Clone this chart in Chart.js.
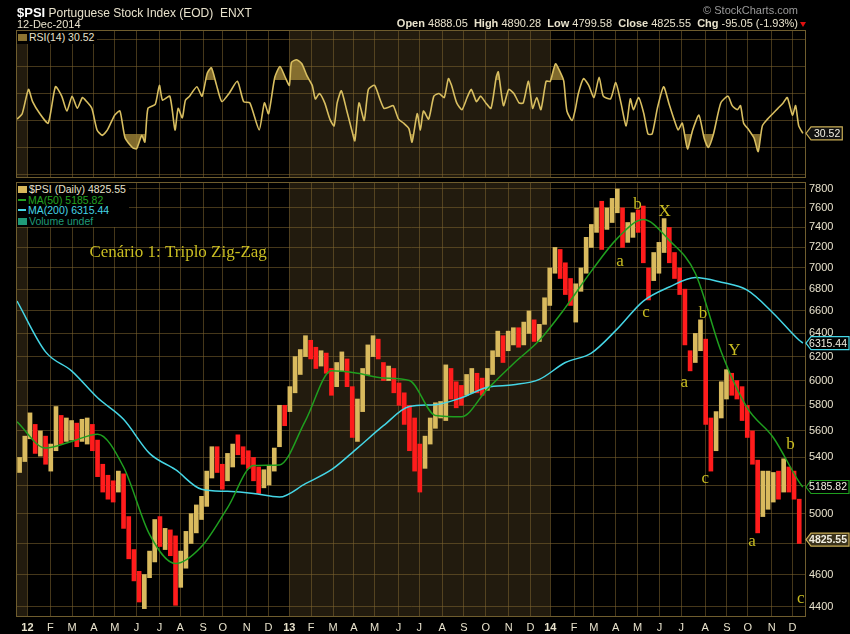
<!DOCTYPE html>
<html>
<head>
<meta charset="utf-8">
<script src="https://cdn.jsdelivr.net/npm/chart.js@4.4.1/dist/chart.umd.min.js"></script>
<style>
  body { margin: 0; background: #000; width: 850px; height: 634px; overflow: hidden; position: relative;
         font-family: "Liberation Sans", Arial, sans-serif; }
  canvas { position: absolute; left: 0; }
  #rsi { top: 0; }
  #price { top: 180px; }
  .t { position: absolute; white-space: nowrap; color: #e8e2cc; }
  .leg { position: absolute; background: #000; font-size: 10.5px; line-height: 10.5px; padding: 1px 3px 1px 1px; }
  .ico { display: inline-block; width: 9px; height: 7px; margin-right: 2px; vertical-align: 0; }
  .dash { display: inline-block; width: 8px; height: 2px; margin-right: 2px; vertical-align: 3px; }
</style>
</head>
<body>
<canvas id="rsi" width="850" height="180"></canvas>
<canvas id="price" width="850" height="454"></canvas>

<div class="t" style="left:17px;top:5px;font-size:12px"><b style="font-size:13px;color:#fff">$PSI</b> Portuguese Stock Index (EOD)&nbsp; ENXT</div>
<div class="t" style="left:17px;top:18px;font-size:11px">12-Dec-2014</div>
<div class="t" style="right:52px;top:4px;font-size:11px;color:#9a9a9a">© StockCharts.com</div>
<div class="t" style="right:52px;top:17px;font-size:11px"><b>Open</b> 4888.05&nbsp; <b>High</b> 4890.28&nbsp; <b>Low</b> 4799.58&nbsp; <b>Close</b> 4825.55&nbsp; <b>Chg</b> -95.05 (-1.93%)</div>
<div style="position:absolute;left:800px;top:22px;width:0;height:0;border-left:3px solid transparent;border-right:3px solid transparent;border-top:5px solid #e01010"></div>

<div class="leg" style="left:17px;top:31px;color:#e8e2cc"><span class="ico" style="background:#8c7432"></span>RSI(14) 30.52</div>
<div class="leg" style="left:17px;top:183px">
  <div style="color:#e8e2cc"><span class="ico" style="background:#d8b85c"></span>$PSI (Daily) 4825.55</div>
  <div style="color:#22a322"><span class="dash" style="background:#22a322"></span>MA(50) 5185.82</div>
  <div style="color:#45d6e6"><span class="dash" style="background:#45d6e6"></span>MA(200) 6315.44</div>
  <div style="color:#1f9a78"><span class="ico" style="background:#1f9a78"></span>Volume undef</div>
</div>

<script>
// ---- eixo temporal: dias de negociação desde meados de Dez-2011 ----
const monthDays   = [10,32,53,74,94,115,137,157,179,198,221,242,262,283,304,324,344,367,387,409,430,451,473,494,513,536,555,576,597,618,639,662,683,703,726,746];
const monthLabels = ['12','F','M','A','M','J','J','A','S','O','N','D','13','F','M','A','M','J','J','A','S','O','N','D','14','F','M','A','M','J','J','A','S','O','N','D'];
const shadeSpans  = [[0, 10], [262, 513]];

// ---- barras semanais (mínimo / máximo / subida=1) ----
const weekLow  = [5290,5370,5540,5430,5410,5350,5300,5450,5500,5520,5530,5480,5520,5500,5450,5260,5150,5100,5080,5150,
                  4900,4700,4560,4430,4390,4580,4680,4780,4760,4720,4410,4520,4640,4800,4870,4960,5050,5250,5290,5170,
                  5230,5330,5420,5350,5320,5230,5140,5180,5200,5300,5480,5640,5750,5900,6050,6200,6180,6100,6120,6060,
                  5880,5950,6080,5950,5550,5520,5750,6050,6200,6180,6000,6000,5900,5800,5650,5450,5300,5150,5320,5500,
                  5620,5700,5680,5850,5780,5800,5880,5900,5900,5880,5920,6050,6200,6150,6250,6300,6280,6300,6400,6330,
                  6330,6480,6650,6950,6900,6750,6650,6500,6780,6950,7200,7350,7180,7380,7450,7550,7200,7250,7300,7350,
                  7050,6700,6880,6950,7150,7050,6900,6750,6300,6080,6150,6250,5650,5300,5450,5700,5850,5880,5850,5680,
                  5550,5350,4870,4980,5030,5080,5100,5150,5150,5100,4800];
const weekHigh = [5400,5560,5740,5650,5600,5560,5500,5790,5720,5700,5680,5660,5690,5700,5650,5530,5350,5270,5230,5300,
                  5280,4980,4760,4620,4600,4750,4960,4980,4900,4890,4850,4750,4880,5000,5060,5120,5300,5480,5480,5350,
                  5430,5500,5570,5480,5450,5400,5330,5310,5340,5470,5800,5800,5950,6200,6260,6380,6340,6280,6250,6230,
                  6100,6150,6240,6180,5950,5850,6100,6300,6380,6350,6150,6120,6100,5980,5900,5800,5700,5500,5560,5700,
                  5820,5830,6130,6100,5990,5960,6050,6100,6060,6020,6100,6250,6420,6380,6420,6450,6450,6500,6600,6520,
                  6480,6720,7000,7200,7180,7050,6900,6850,7000,7300,7430,7600,7670,7600,7700,7800,7600,7450,7550,7580,
                  7620,7000,7150,7250,7490,7400,7150,7000,6800,6250,6400,6520,6350,5700,5750,5990,6090,6060,6000,5950,
                  5800,5600,5380,5300,5300,5290,5300,5390,5330,5300,5100];
const weekUp   = [1,1,1,0,1,0,1,1,0,1,1,0,1,1,0,0,0,0,0,1,
                  0,0,0,0,1,1,1,0,1,0,0,1,1,1,1,1,1,1,0,0,
                  1,1,0,0,0,0,0,1,1,1,1,0,1,1,1,1,0,0,1,0,
                  0,1,1,0,0,1,1,1,1,0,0,1,0,0,0,0,0,0,1,1,
                  1,1,1,0,0,0,1,1,0,0,1,1,1,0,1,1,0,1,1,0,
                  1,1,1,1,0,0,0,1,1,1,1,1,0,1,1,1,0,1,1,0,
                  0,0,1,1,1,0,0,0,0,0,1,1,0,0,1,1,1,0,0,0,
                  0,0,0,1,1,1,0,1,0,0,0];

// ---- médias móveis ----
const maDays = [0,27.5,52.5,77.5,102.5,127.5,152.5,177.5,202.5,227.5,252.5,277.5,302.5,327.5,352.5,377.5,
                402.5,427.5,452.5,477.5,502.5,527.5,552.5,577.5,602.5,627.5,652.5,677.5,702.5,727.5,752.5,756];
const ma50  = [5670,5470,5520,5575,5330,4860,4670,4780,5040,5340,5345,5680,6080,6060,6020,6000,
               5720,5710,5930,6140,6340,6630,6970,7290,7480,7270,6950,6240,5780,5550,5220,5185.82];
const ma200 = [6690,6240,6080,5860,5690,5430,5310,5170,5155,5140,5115,5210,5310,5470,5640,5790,
               5805,5860,5945,5965,6010,6150,6230,6440,6690,6820,6910,6865,6790,6580,6340,6315.44];

// ---- RSI(14) ----
const rsiDays = [0,5,11,15,22,30,37,43,48,53,58,63,67,72,77,82,87,94,99,104,111,115,120,123,126,133,137,140,147,152,155,159,162,166,173,178,183,187,
                 192,197,204,212,218,224,233,238,242,248,253,258,262,264,269,274,279,284,287,291,296,301,305,308,312,317,322,325,329,334,338,344,349,353,358,362,367,372,377,380,
                 385,388,391,396,401,406,411,415,418,423,428,433,437,442,446,451,456,461,463,468,473,478,483,487,492,496,500,504,509,513,518,523,526,529,534,537,540,545,550,555,560,564,
                 571,576,581,586,590,593,598,603,607,611,616,622,627,632,636,640,645,650,656,661,665,670,677,684,688,693,696,699,704,709,713,717,722,727,732,737,741,746,749,752,756];
const rsiVals = [41,45,63,54,45,38,65,58,47,58,49,57,54,49,33,29,33,44,47,27,20,19,29,24,49,52,66,55,58,33,49,42,55,58,65,58,75,79,
                 66,54,60,69,54,53,33,53,45,72,80,72,66,83,85,82,73,66,56,60,53,41,36,53,62,48,33,25,53,40,63,66,56,49,50,51,41,38,34,24,
                 45,33,47,41,58,60,57,71,66,53,48,57,63,54,58,53,49,72,76,51,63,60,53,53,69,49,57,48,69,69,82,75,69,47,40,48,60,71,66,57,72,58,
                 56,68,53,36,56,48,57,45,30,30,49,65,53,41,33,38,19,33,44,27,20,30,53,58,51,48,51,38,33,27,17,36,41,45,49,53,57,44,51,36,30.52];

// ---- anotações (Elliott) ----
const waveText  = ['a','b','X','c','b','a','Y','c','b','a','c'];
const waveDays  = [580,597,623,605,660,642,690,662,744,707,754];
const wavePrice = [7058,7632,7564,6583,6575,5987,6251,5249,5498,4811,4450];
const noteText = 'Cenário 1: Triplo Zig-Zag';
const noteAt = [155, 7145];

const priceTicks = [4400,4600,4800,5000,5200,5400,5600,5800,6000,6200,6400,6600,6800,7000,7200,7400,7600,7800];
const rsiTicks = [0,10,20,30,40,50,60,70,80,90,100];
const rsiLabels = [10,30,50,70,90];

const GOLD = '#d9ba5e', RED = '#ff1c1c', GREEN = '#1f9f1f', CYAN = '#45d6e6';
const GRID = 'rgba(125,100,48,0.55)', BORDER = '#6f5d2e', SHADE = '#221b0e', TICK = '#e8e2cc';
const RSI_LINE = '#d8be60', RSI_FILL = 'rgba(150,124,52,0.85)', ANNO = '#c9bd22';
const FONT = '"Liberation Sans", Arial, sans-serif';

const panelPlugin = {
  id: 'panel',
  beforeDraw(chart) {
    const { ctx, chartArea: a, scales: { x } } = chart;
    ctx.save();
    ctx.fillStyle = '#000';
    ctx.fillRect(0, 0, chart.width, chart.height);
    ctx.fillStyle = SHADE;
    shadeSpans.forEach(([s, e]) => {
      const x0 = Math.max(a.left, x.getPixelForValue(s));
      const x1 = Math.min(a.right, x.getPixelForValue(e));
      ctx.fillRect(x0, a.top, x1 - x0, a.bottom - a.top);
    });
    ctx.restore();
  },
  afterDatasetsDraw(chart) {
    const { ctx, chartArea: a } = chart;
    ctx.save();
    ctx.strokeStyle = BORDER;
    ctx.lineWidth = 1;
    ctx.strokeRect(a.left - 0.5, a.top + 0.5, a.right - a.left, a.bottom - a.top - 1);
    ctx.restore();
  }
};

function drawTag(ctx, xLeft, y, text, stroke, fill, bold) {
  ctx.save();
  ctx.font = (bold ? 'bold ' : '') + '10.5px ' + FONT;
  const w = ctx.measureText(text).width;
  const right = Math.min(849, xLeft + 10 + w);
  ctx.beginPath();
  ctx.moveTo(xLeft, y);
  ctx.lineTo(xLeft + 5, y - 6.5);
  ctx.lineTo(right, y - 6.5);
  ctx.lineTo(right, y + 6.5);
  ctx.lineTo(xLeft + 5, y + 6.5);
  ctx.closePath();
  ctx.fillStyle = fill;
  ctx.fill();
  ctx.strokeStyle = stroke;
  ctx.lineWidth = 1.2;
  ctx.stroke();
  ctx.fillStyle = '#f2efe2';
  ctx.textBaseline = 'middle';
  ctx.fillText(text, right - 2 - w, y + 0.5);
  ctx.restore();
}

const noPad = s => { s.paddingTop = 0; s.paddingBottom = 0; s.paddingLeft = 0; s.paddingRight = 0; };

const xScale = (showLabels) => ({
  type: 'linear', min: 0, max: 759, offset: false,
  afterBuildTicks: s => { s.ticks = monthDays.map(v => ({ value: v })); },
  afterFit: s => { s.height = showLabels ? 17 : 0; noPad(s); },
  grid: { color: GRID, drawTicks: false, offset: false },
  border: { display: false },
  ticks: {
    display: showLabels, autoSkip: false, maxRotation: 0, padding: 4, color: TICK,
    callback: (v, i) => monthLabels[i],
    font: c => ({ size: 11, family: FONT, weight: ['12', '13', '14'].includes(monthLabels[c.index]) ? 'bold' : 'normal' })
  }
});

// ---- painel RSI ----
const rsiPts = rsiDays.map((d, i) => ({ x: d, y: rsiVals[i] }));
new Chart(document.getElementById('rsi'), {
  type: 'line',
  data: {
    datasets: [
      { data: rsiPts, borderColor: RSI_LINE, borderWidth: 1.6, pointRadius: 0, tension: 0.2,
        fill: { target: { value: 70 }, above: RSI_FILL, below: 'rgba(0,0,0,0)' } },
      { data: rsiPts, borderColor: 'rgba(0,0,0,0)', borderWidth: 0, pointRadius: 0, tension: 0.2,
        fill: { target: { value: 30 }, above: 'rgba(0,0,0,0)', below: RSI_FILL } }
    ]
  },
  options: {
    responsive: false, animation: false, devicePixelRatio: 1,
    layout: { padding: { left: 17, top: 30, right: 0, bottom: 2 } },
    plugins: { legend: { display: false }, tooltip: { enabled: false } },
    scales: {
      x: xScale(false),
      y: {
        position: 'right', min: -2.6, max: 107,
        afterBuildTicks: s => { s.ticks = rsiTicks.map(v => ({ value: v })); },
        afterFit: s => { s.width = 44; noPad(s); },
        grid: { drawTicks: false, color: c => (c.tick && (c.tick.value === 70 || c.tick.value === 30)) ? '#8d7538' : GRID },
        border: { display: false },
        ticks: { padding: 3, color: TICK, font: { size: 11, family: FONT },
                 callback: v => rsiLabels.includes(v) ? String(v) : '' }
      }
    }
  },
  plugins: [panelPlugin, {
    id: 'rsiTag',
    afterDraw(chart) {
      const y = chart.scales.y.getPixelForValue(rsiVals[rsiVals.length - 1]);
      drawTag(chart.ctx, chart.chartArea.right, y, '30.52', '#c9ad55', '#111', false);
    }
  }]
});

// ---- painel de preços ----
const bars = weekLow.map((lo, i) => ({ x: i * 5 + 2.5, y: [lo, weekHigh[i]] }));
new Chart(document.getElementById('price'), {
  type: 'bar',
  data: {
    datasets: [
      { type: 'line', data: maDays.map((d, i) => ({ x: d, y: ma50[i] })), borderColor: GREEN, borderWidth: 1.5,
        pointRadius: 0, cubicInterpolationMode: 'monotone', order: 1 },
      { type: 'line', data: maDays.map((d, i) => ({ x: d, y: ma200[i] })), borderColor: CYAN, borderWidth: 1.5,
        pointRadius: 0, cubicInterpolationMode: 'monotone', order: 2 },
      { data: bars, backgroundColor: weekUp.map(u => u ? GOLD : RED), barThickness: 4, order: 3 }
    ]
  },
  options: {
    responsive: false, animation: false, devicePixelRatio: 1,
    layout: { padding: { left: 17, top: 2, right: 0, bottom: 0 } },
    plugins: { legend: { display: false }, tooltip: { enabled: false } },
    scales: {
      x: xScale(true),
      y: {
        type: 'logarithmic', position: 'right', min: 4340, max: 7875,
        afterBuildTicks: s => { s.ticks = priceTicks.map(v => ({ value: v })); },
        afterFit: s => { s.width = 44; noPad(s); },
        grid: { drawTicks: false, color: GRID },
        border: { display: false },
        ticks: { padding: 3, color: TICK, font: { size: 11, family: FONT }, callback: v => String(v) }
      }
    }
  },
  plugins: [panelPlugin, {
    id: 'notes',
    afterDatasetsDraw(chart) {
      const { ctx, scales: { x, y } } = chart;
      ctx.save();
      ctx.fillStyle = ANNO;
      ctx.textAlign = 'center';
      ctx.textBaseline = 'middle';
      ctx.font = '17px "Liberation Serif", "DejaVu Serif", serif';
      ctx.fillText(noteText, x.getPixelForValue(noteAt[0]), y.getPixelForValue(noteAt[1]));
      ctx.font = '17px "Liberation Serif", "DejaVu Serif", serif';
      waveText.forEach((t, i) => ctx.fillText(t, x.getPixelForValue(waveDays[i]), y.getPixelForValue(wavePrice[i])));
      ctx.restore();
    },
    afterDraw(chart) {
      const { ctx, chartArea: a, scales: { y } } = chart;
      drawTag(ctx, a.right, y.getPixelForValue(6315.44), '6315.44', CYAN, '#000', false);
      drawTag(ctx, a.right, y.getPixelForValue(5185.82), '5185.82', GREEN, '#000', false);
      drawTag(ctx, a.right, y.getPixelForValue(4825.55), '4825.55', '#c9ad55', '#3a321c', true);
    }
  }]
});
</script>
</body>
</html>
